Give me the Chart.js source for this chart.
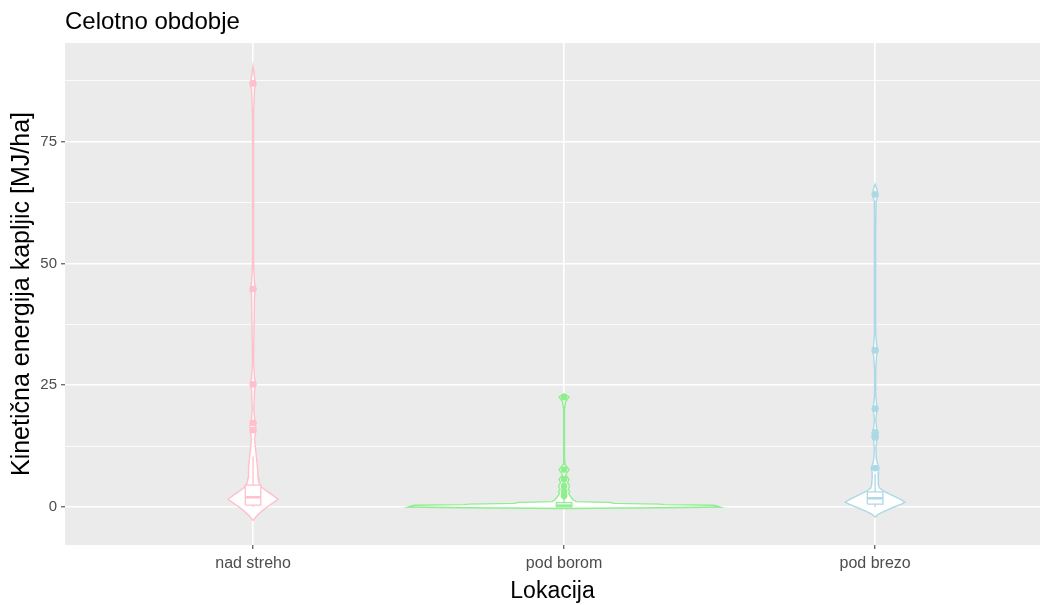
<!DOCTYPE html>
<html>
<head>
<meta charset="utf-8">
<script src="https://cdn.jsdelivr.net/npm/chart.js@4.4.1/dist/chart.umd.min.js"></script>
<style>
  html, body { margin: 0; padding: 0; background: #ffffff; }
  #wrap { width: 1049px; height: 605px; position: relative; }
</style>
</head>
<body>
<div id="wrap"><canvas id="chart"></canvas></div>
<script>
// ---- data -------------------------------------------------------------
const categories = ['nad streho', 'pod borom', 'pod brezo'];

const yMajorTicks = [0, 25, 50, 75];
const yMinorTicks = [12.5, 37.5, 62.5, 87.5];

// violin outlines: energy levels and density half-widths (in category units)
const nadStrehoLevels    = [-2.8, -2.0, -1.0, 0, 1.0, 1.6, 2.4, 3.2, 4.0, 4.9, 6, 8, 10, 12, 14, 15.2, 15.8, 16.6, 17.3, 18.3, 20, 24, 25.2, 26.4, 30, 43.6, 44.8, 46, 50, 80, 85.8, 87, 88.2, 90.6];
const nadStrehoHalfWidth = [0, 0.0096, 0.0257, 0.045, 0.0675, 0.080, 0.064, 0.045, 0.029, 0.019, 0.016, 0.0145, 0.0113, 0.008, 0.0048, 0.008, 0.0096, 0.008, 0.0096, 0.0048, 0.0026, 0.0048, 0.0096, 0.0048, 0.0016, 0.0048, 0.0096, 0.0048, 0.0016, 0.0013, 0.0048, 0.0096, 0.0048, 0];

const podBoromLevels    = [-0.3, -0.15, 0.0, 0.35, 0.5, 0.6, 0.75, 0.95, 1.1, 1.5, 2.0, 2.3, 2.8, 3.2, 3.7, 4.3, 5.0, 5.7, 6.6, 7.7, 8.7, 10, 20, 21.6, 22.6, 23.2];
const podBoromHalfWidth = [0, 0.322, 0.502, 0.482, 0.322, 0.305, 0.161, 0.145, 0.0386, 0.029, 0.0225, 0.0193, 0.0145, 0.0177, 0.0129, 0.0177, 0.0113, 0.0161, 0.0048, 0.0161, 0.0032, 0.0013, 0.0013, 0.0048, 0.0161, 0];

const podBrezoLevels    = [-2.1, -1.5, -0.8, 0, 0.6, 1.0, 1.6, 2.4, 3.2, 3.9, 4.5, 6, 7.2, 8.0, 8.8, 10, 12, 13.6, 14.3, 14.8, 15.3, 16.2, 18, 19.4, 20.2, 21, 23, 28, 31.2, 32.2, 33.2, 36, 55, 62.8, 64.2, 65.4, 66.3];
const podBrezoHalfWidth = [0, 0.0096, 0.032, 0.061, 0.084, 0.096, 0.080, 0.055, 0.029, 0.0145, 0.0113, 0.0096, 0.0096, 0.0129, 0.008, 0.0039, 0.0026, 0.0048, 0.0096, 0.009, 0.0096, 0.0048, 0.0023, 0.0048, 0.0096, 0.0048, 0.0019, 0.0016, 0.0048, 0.0096, 0.0048, 0.0016, 0.0013, 0.0032, 0.0096, 0.0048, 0];

// box summaries per location
const whiskerLow  = [0.0, 0.0, 0.0];
const quartile1   = [0.4, 0.05, 0.6];
const medians     = [2.0, 0.3, 1.8];
const quartile3   = [4.5, 0.9, 3.1];
const whiskerHigh = [10.4, 2.0, 6.8];

// outlying observations
const nadStrehoOutliers = [87.0, 44.8, 25.2, 17.3, 15.8];
const podBoromOutliers  = [22.6, 7.7, 5.7, 4.3, 3.2, 2.3];
const podBrezoOutliers  = [64.2, 32.2, 20.2, 15.3, 14.3, 8.0];

// ---- styling ----------------------------------------------------------
const lineColors = ['#FFC0CB', '#90EE90', '#ADD8E6'];
const boxHalf = 0.025;
const fontFamily = '"Liberation Sans", Arial, Helvetica, sans-serif';

const violinLevels = [nadStrehoLevels, podBoromLevels, podBrezoLevels];
const violinHalfWidths = [nadStrehoHalfWidth, podBoromHalfWidth, podBrezoHalfWidth];
const outlierSets = [nadStrehoOutliers, podBoromOutliers, podBrezoOutliers];

function violinOutline(i) {
  const pos = i + 1;
  const lv = violinLevels[i], hw = violinHalfWidths[i];
  const leftSide = lv.map((y, k) => ({ x: pos - hw[k], y }));
  const rightSide = lv.map((y, k) => ({ x: pos + hw[k], y })).reverse();
  const pts = leftSide.concat(rightSide);
  pts.push(pts[0]);
  return pts;
}

const datasets = [];
categories.forEach((name, i) => {
  const pos = i + 1;
  const col = lineColors[i];
  // violin
  datasets.push({
    label: name + ' violin', data: violinOutline(i), showLine: true, fill: 'shape',
    backgroundColor: '#ffffff', borderColor: col, borderWidth: 1.4,
    pointRadius: 0, tension: 0, order: 3
  });
  // whiskers
  datasets.push({
    label: name + ' whisker up', data: [{ x: pos, y: quartile3[i] }, { x: pos, y: whiskerHigh[i] }],
    showLine: true, borderColor: col, borderWidth: 1.3, pointRadius: 0, order: 2
  });
  datasets.push({
    label: name + ' whisker down', data: [{ x: pos, y: whiskerLow[i] }, { x: pos, y: quartile1[i] }],
    showLine: true, borderColor: col, borderWidth: 1.3, pointRadius: 0, order: 2
  });
  // box
  datasets.push({
    label: name + ' box',
    data: [
      { x: pos - boxHalf, y: quartile1[i] }, { x: pos + boxHalf, y: quartile1[i] },
      { x: pos + boxHalf, y: quartile3[i] }, { x: pos - boxHalf, y: quartile3[i] },
      { x: pos - boxHalf, y: quartile1[i] }
    ],
    showLine: true, fill: 'shape', backgroundColor: '#ffffff', borderColor: col,
    borderWidth: 1.3, pointRadius: 0, tension: 0, order: 2
  });
  // median
  datasets.push({
    label: name + ' median', data: [{ x: pos - boxHalf, y: medians[i] }, { x: pos + boxHalf, y: medians[i] }],
    showLine: true, borderColor: col, borderWidth: 2.4, pointRadius: 0, order: 1.5
  });
  // outliers
  datasets.push({
    label: name + ' outliers', data: outlierSets[i].map(v => ({ x: pos, y: v })),
    showLine: false, pointRadius: 3.4, pointBackgroundColor: col, pointBorderWidth: 0,
    pointHoverRadius: 3.4, order: 1
  });
});

const panelBackground = {
  id: 'panelBackground',
  beforeDraw(chart) {
    const { ctx, chartArea: a } = chart;
    ctx.save();
    ctx.fillStyle = '#EBEBEB';
    ctx.fillRect(a.left, a.top, a.right - a.left, a.bottom - a.top);
    ctx.restore();
  }
};

const plotTitle = {
  id: 'plotTitle',
  afterDraw(chart) {
    const { ctx, chartArea: a } = chart;
    ctx.save();
    ctx.font = '24px ' + fontFamily;
    ctx.fillStyle = '#000000';
    ctx.textAlign = 'left';
    ctx.textBaseline = 'alphabetic';
    ctx.fillText('Celotno obdobje', a.left, 29);
    ctx.restore();
  }
};

const isMajor = v => yMajorTicks.includes(v);

new Chart(document.getElementById('chart'), {
  type: 'scatter',
  data: { datasets },
  plugins: [panelBackground, plotTitle],
  options: {
    responsive: true,
    maintainAspectRatio: false,
    devicePixelRatio: 1,
    animation: false,
    layout: { padding: { top: 43, right: 9, bottom: 0, left: 0 } },
    plugins: { legend: { display: false }, tooltip: { enabled: false }, title: { display: false } },
    scales: {
      x: {
        type: 'linear', min: 0.3955, max: 3.53,
        afterBuildTicks: axis => { axis.ticks = categories.map((c, i) => ({ value: i + 1 })); },
        afterFit: s => { s.height = 60; },
        ticks: {
          autoSkip: false, maxRotation: 0, padding: 5, color: '#4D4D4D',
          font: { family: fontFamily, size: 16 },
          callback: v => categories[Math.round(v) - 1]
        },
        grid: { color: '#ffffff', lineWidth: 1.6, drawTicks: true, tickLength: 4, tickColor: '#333333', tickWidth: 1 },
        border: { display: false },
        title: { display: true, text: 'Lokacija', color: '#000000', font: { family: fontFamily, size: 23 }, padding: { top: 0, bottom: 0 } }
      },
      y: {
        type: 'linear', min: -7.8, max: 95.3,
        afterBuildTicks: axis => {
          axis.ticks = yMajorTicks.concat(yMinorTicks).sort((a, b) => a - b).map(v => ({ value: v }));
        },
        afterFit: s => { s.width = 65; },
        ticks: {
          autoSkip: false, padding: 4, color: '#4D4D4D',
          font: { family: fontFamily, size: 15 },
          callback: v => (isMajor(v) ? String(v) : '')
        },
        grid: {
          color: '#ffffff',
          lineWidth: c => (c.tick && isMajor(c.tick.value) ? 1.6 : 0.8),
          drawTicks: true, tickLength: 4, tickWidth: 1,
          tickColor: c => (c.tick && isMajor(c.tick.value) ? '#333333' : 'rgba(0,0,0,0)')
        },
        border: { display: false },
        title: { display: true, text: 'Kinetična energija kapljic [MJ/ha]', color: '#000000', font: { family: fontFamily, size: 25 }, padding: { top: 7, bottom: 0 } }
      }
    }
  }
});
</script>
</body>
</html>
